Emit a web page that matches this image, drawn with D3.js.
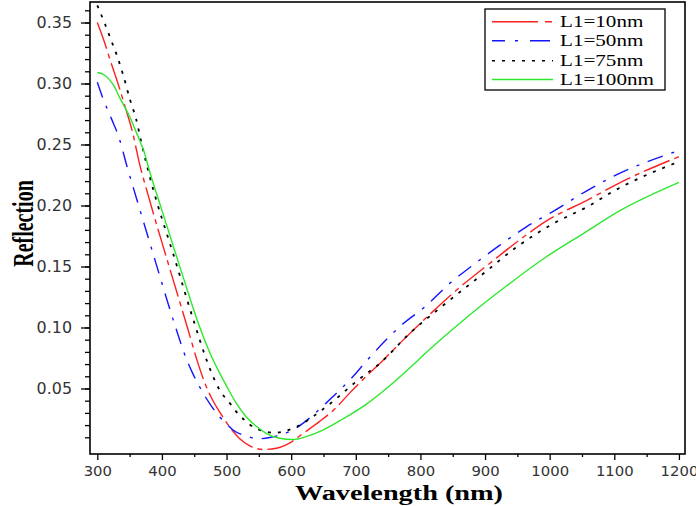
<!DOCTYPE html>
<html>
<head>
<meta charset="utf-8">
<script src="https://cdn.jsdelivr.net/npm/d3@7"></script>
<style>
  body { margin: 0; background: #fff; }
</style>
</head>
<body>
<div id="chart"></div>
<script>
// values (wavelength in nm, reflection)
var wl10 = [300, 311, 320, 332, 343, 355, 365, 380, 410, 440, 455, 466, 476, 489, 500, 510, 520, 536, 556, 577, 598, 618, 644, 667, 690, 716, 740, 770, 819, 861, 907, 954, 1000, 1057, 1106, 1200]
var r10 = [0.350, 0.334, 0.319, 0.300, 0.281, 0.259, 0.235, 0.206, 0.152, 0.099, 0.072, 0.055, 0.043, 0.031, 0.022, 0.0150, 0.0090, 0.0030, 0.0000, 0.0010, 0.0054, 0.013, 0.023, 0.033, 0.046, 0.060, 0.072, 0.088, 0.113, 0.133, 0.1525, 0.172, 0.189, 0.204, 0.218, 0.240]

var wl50 = [300, 310, 322, 334, 346, 360, 390, 420, 438, 448, 463, 476, 489, 500, 510, 531, 549, 567, 587, 608, 629, 654, 670, 696, 714, 773, 807, 845, 881, 923, 964, 1008, 1054, 1103, 1200]
var r50 = [0.301, 0.286, 0.271, 0.255, 0.232, 0.207, 0.154, 0.102, 0.074, 0.062, 0.047, 0.036, 0.027, 0.021, 0.016, 0.011, 0.0088, 0.0098, 0.0125, 0.0177, 0.026, 0.038, 0.046, 0.060, 0.071, 0.103, 0.117, 0.136, 0.151, 0.1675, 0.1825, 0.196, 0.211, 0.225, 0.245]

var wl75 = [300, 311, 321, 331, 340, 351, 360, 368, 382, 420, 450, 469, 479, 489, 505, 515, 528, 541, 556, 574, 592, 608, 623, 639, 659, 675, 690, 711, 737, 783, 835, 897, 949, 1005, 1062, 1093, 1200]
var r75 = [0.364, 0.350, 0.336, 0.322, 0.307, 0.286, 0.271, 0.252, 0.222, 0.156, 0.104, 0.0735, 0.060, 0.049, 0.038, 0.031, 0.024, 0.0185, 0.0153, 0.0136, 0.0153, 0.0185, 0.023, 0.029, 0.037, 0.044, 0.051, 0.060, 0.0705, 0.095, 0.118, 0.144, 0.166, 0.185, 0.200, 0.210, 0.236]

var wl100 = [300, 311, 319, 327, 334, 342, 350, 358, 365, 373, 381, 400, 430, 458, 476, 489, 500, 515, 530, 546, 562, 582, 603, 623, 649, 680, 716, 752, 788, 806, 871, 933, 995, 1052, 1106, 1200]
var r100 = [0.309, 0.307, 0.303, 0.297, 0.289, 0.281, 0.273, 0.263, 0.254, 0.243, 0.228, 0.196, 0.146, 0.101, 0.077, 0.063, 0.052, 0.038, 0.027, 0.019, 0.013, 0.0092, 0.0082, 0.0105, 0.0158, 0.025, 0.037, 0.052, 0.069, 0.078, 0.108, 0.134, 0.158, 0.177, 0.195, 0.219]

var seriesNames = ["L1=10nm", "L1=50nm", "L1=75nm", "L1=100nm"]
var xMajor = [300, 400, 500, 600, 700, 800, 900, 1000, 1100, 1200]
var yMajor = [0.05, 0.10, 0.15, 0.20, 0.25, 0.30, 0.35]

var series = [
  {name: seriesNames[0], x: wl10, y: r10, color: "#ff2020", dash: "28,5,5,5", key: "46,7,7,7"},
  {name: seriesNames[1], x: wl50, y: r50, color: "#1414ff", dash: "16,9,3,9", key: "13,10,3,12,20"},
  {name: seriesNames[2], x: wl75, y: r75, color: "#000000", dash: "3,7", key: "3,7"},
  {name: seriesNames[3], x: wl100, y: r100, color: "#2ee82e", dash: null, key: null}
]

var width = 696
var height = 506
var margin = {top: 2, right: 11, bottom: 52, left: 90}
var plotW = width - margin.left - margin.right
var plotH = height - margin.top - margin.bottom

var x = d3.scaleLinear()
  .domain([288.7, 1209.4])
  .range([0, plotW])

var y = d3.scaleLinear()
  .domain([-0.0037, 0.3668])
  .range([plotH, 0])

var svg = d3.select("#chart")
  .append("svg")
  .attr("width", width)
  .attr("height", height)

var main = svg.append("g")
  .attr("transform", "translate(" + margin.left + "," + margin.top + ")")

// stretch text sideways, the original picture is widened
function stretch(sel, k) {
  sel.each(function() {
    var len = this.getComputedTextLength()
    d3.select(this)
      .attr("textLength", len * k)
      .attr("lengthAdjust", "spacingAndGlyphs")
  })
}

// minor ticks first
var yMinor = d3.range(1, 37).map(function(d) { return d / 100 })
main.append("g")
  .call(d3.axisLeft(y).tickValues(yMinor).tickSize(5).tickFormat(""))

var xMinor = d3.range(350, 1200, 100)
main.append("g")
  .attr("transform", "translate(0," + plotH + ")")
  .call(d3.axisBottom(x).tickValues(xMinor).tickSize(3).tickFormat(""))

// draw the y axis
var yAxis = main.append("g")
  .call(d3.axisLeft(y).tickValues(yMajor).tickSize(9).tickPadding(9).tickFormat(d3.format(".2f")))

// draw the x axis
var xAxis = main.append("g")
  .attr("transform", "translate(0," + plotH + ")")
  .call(d3.axisBottom(x).tickValues(xMajor).tickSize(6).tickPadding(6).tickFormat(d3.format("d")))

main.selectAll(".domain").remove()
main.selectAll(".tick line").attr("stroke", "#000").attr("stroke-width", 1.3)
main.selectAll(".tick text")
  .attr("font-family", "'DejaVu Sans', Verdana, sans-serif")
  .attr("fill", "#333")
yAxis.selectAll(".tick text").attr("font-size", 15)
xAxis.selectAll(".tick text").attr("font-size", 14)
stretch(yAxis.selectAll(".tick text"), 1.06)
stretch(xAxis.selectAll(".tick text"), 1.06)

// frame round the plot
main.append("rect")
  .attr("x", 0)
  .attr("y", 0)
  .attr("width", plotW)
  .attr("height", plotH)
  .attr("fill", "none")
  .attr("stroke", "#000")
  .attr("stroke-width", 1.6)

var line = d3.line()
  .x(function(d) { return x(d[0]) })
  .y(function(d) { return y(d[1]) })
  .curve(d3.curveMonotoneX)

series.forEach(function(s) {
  var pts = s.x.map(function(v, i) { return [v, s.y[i]] })
  main.append("path")
    .datum(pts)
    .attr("fill", "none")
    .attr("stroke", s.color)
    .attr("stroke-width", s.dash == "3,7" ? 1.8 : 1.4)
    .attr("stroke-dasharray", s.dash)
    .attr("d", line)
})

// legend
var legend = svg.append("g")
legend.append("rect")
  .attr("x", 485)
  .attr("y", 9)
  .attr("width", 180)
  .attr("height", 81)
  .attr("fill", "#fff")
  .attr("stroke", "#000")
  .attr("stroke-width", 1.3)

var rowY = [21.7, 40.7, 60.7, 79.5]
series.forEach(function(s, i) {
  legend.append("line")
    .attr("x1", 492)
    .attr("x2", 553)
    .attr("y1", rowY[i])
    .attr("y2", rowY[i])
    .attr("stroke", s.color)
    .attr("stroke-width", s.dash == "3,7" ? 1.6 : 1.4)
    .attr("stroke-dasharray", s.key)
  var t = legend.append("text")
    .attr("x", 560)
    .attr("y", rowY[i] + 5)
    .attr("font-family", "'Liberation Serif', 'Times New Roman', serif")
    .attr("font-size", 17)
    .attr("fill", "#000")
    .text(s.name)
  stretch(t, 1.24)
})

// axis titles
svg.append("text")
  .attr("x", 399)
  .attr("y", 499.5)
  .attr("text-anchor", "middle")
  .attr("font-family", "'Liberation Serif', 'Times New Roman', serif")
  .attr("font-weight", "bold")
  .attr("font-size", 20)
  .attr("textLength", 208)
  .attr("lengthAdjust", "spacingAndGlyphs")
  .text("Wavelength (nm)")

svg.append("g")
  .attr("transform", "translate(33,223.5) scale(1.45,1) rotate(-90)")
  .append("text")
  .attr("text-anchor", "middle")
  .attr("font-family", "'Liberation Serif', 'Times New Roman', serif")
  .attr("font-weight", "bold")
  .attr("font-size", 20)
  .text("Reflection")
</script>
</body>
</html>
